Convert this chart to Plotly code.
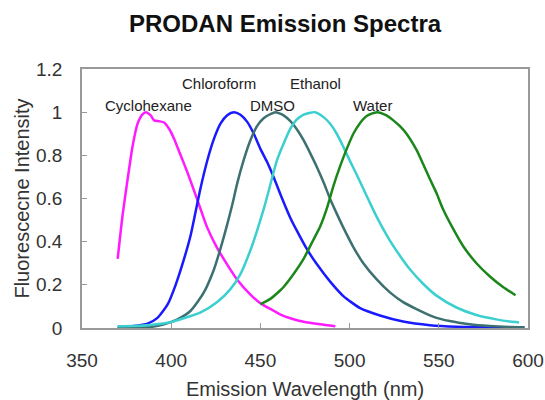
import plotly.graph_objects as go

# Emission wavelength (nm) and normalised intensity for each solvent
cyclohexane_wl = [370, 372.7, 375.5, 378.3, 381.1, 383.9, 385.8, 388.5, 390.4, 393.2, 396, 398.8,
                  401.6, 405.3, 409, 412.7, 416.5, 420.2, 425.8, 431.4, 437, 444.4, 450, 457.4,
                  461, 466.8, 474.2, 483.5, 492]
cyclohexane_int = [0.32, 0.52, 0.685, 0.84, 0.946, 0.99, 1.0, 0.985, 0.962, 0.958, 0.952, 0.923,
                   0.877, 0.80, 0.723, 0.639, 0.55, 0.465, 0.37, 0.294, 0.224, 0.155, 0.115, 0.08,
                   0.063, 0.045, 0.029, 0.017, 0.008]

chloroform_wl = [370, 379, 386.7, 392.3, 398, 402.5, 407.2, 410.9, 413.7, 416.5, 420.2, 423.9,
                 427.7, 431.4, 435.1, 438.8, 442.6, 446.3, 450, 453.7, 457.4, 461.2, 466.8, 470.5,
                 476.1, 481.7, 489.1, 496.5, 505.9, 517, 530, 545, 560, 580, 598]
chloroform_int = [0.003, 0.009, 0.02, 0.047, 0.109, 0.2, 0.32, 0.43, 0.54, 0.65, 0.775, 0.875,
                  0.948, 0.986, 1.0, 0.988, 0.955, 0.9, 0.83, 0.77, 0.70, 0.62, 0.51, 0.45,
                  0.365, 0.295, 0.215, 0.148, 0.092, 0.058, 0.03, 0.013, 0.006, 0.004, 0.003]

dmso_wl = [370, 388.5, 396, 403.5, 410.9, 418.3, 423.9, 427.7, 431.4, 434.2, 437, 440.7, 444.4,
           448.1, 451.8, 456.5, 458.4, 463, 466.8, 470.5, 474.2, 477.9, 481.7, 485.4, 489.1,
           492.8, 496.5, 502.1, 507.7, 515.2, 522.6, 530, 537.5, 546.8, 556.1, 567.3, 578.5,
           589.7, 598]
dmso_int = [0.002, 0.005, 0.017, 0.04, 0.08, 0.165, 0.27, 0.37, 0.48, 0.57, 0.67, 0.78, 0.87,
            0.935, 0.972, 0.994, 1.0, 0.985, 0.958, 0.92, 0.87, 0.81, 0.745, 0.675, 0.598,
            0.53, 0.465, 0.375, 0.3, 0.225, 0.165, 0.12, 0.088, 0.053, 0.032, 0.017, 0.009,
            0.005, 0.004]

ethanol_wl = [370, 379, 388.5, 398, 407, 416.5, 425.8, 433.2, 438.8, 444.4, 448.1, 451.8, 454.5,
              459, 462.8, 466.6, 470.3, 474, 480.6, 485.4, 489.1, 492.8, 496.5, 500.3, 504,
              507.7, 511.5, 515.2, 522.6, 528.2, 533.8, 541.2, 548.7, 559.9, 571.1, 582.2, 590, 595]
ethanol_int = [0.008, 0.009, 0.014, 0.024, 0.045, 0.072, 0.12, 0.18, 0.25, 0.36, 0.45, 0.55, 0.63,
               0.77, 0.85, 0.92, 0.965, 0.988, 1.0, 0.977, 0.946, 0.9, 0.839, 0.772, 0.71,
               0.645, 0.578, 0.515, 0.405, 0.335, 0.272, 0.205, 0.15, 0.095, 0.06, 0.04, 0.03,
               0.026]

water_wl = [450, 455.6, 461.2, 463, 468.6, 474.2, 479.8, 483.5, 487.3, 491, 494.7, 498.4, 502.1,
            505.9, 509.6, 515.2, 520.7, 524.5, 528.2, 531.9, 537.5, 541.2, 545, 548.7, 552.4, 558,
            563.6, 571.1, 578.5, 586, 593]
water_int = [0.11, 0.135, 0.175, 0.19, 0.25, 0.32, 0.41, 0.47, 0.555, 0.66, 0.75, 0.83, 0.9,
             0.95, 0.982, 1.0, 0.985, 0.962, 0.935, 0.9, 0.825, 0.76, 0.69, 0.625, 0.55, 0.46,
             0.38, 0.3, 0.24, 0.19, 0.152]

# Solvent labels and where they sit (wavelength, intensity)
label_text = ["Cyclohexane", "Chloroform", "DMSO", "Ethanol", "Water"]
label_x = [387, 427, 457, 481, 513]
label_y = [1.03, 1.135, 1.03, 1.135, 1.03]

x_ticks = [350, 400, 450, 500, 550, 600]
y_ticks = [0, 0.2, 0.4, 0.6, 0.8, 1.0, 1.2]
y_tick_text = ["0", "0.2", "0.4", "0.6", "0.8", "1", "1.2"]

series = [
    (cyclohexane_wl, cyclohexane_int, "#FF1AFF"),
    (chloroform_wl, chloroform_int, "#1A1AFF"),
    (dmso_wl, dmso_int, "#3D7070"),
    (ethanol_wl, ethanol_int, "#3CCFCF"),
    (water_wl, water_int, "#1B871B"),
]

FONT = "Liberation Sans, Arial, sans-serif"

fig = go.Figure()
for (wl, inten, color), name in zip(series, label_text):
    fig.add_trace(go.Scatter(x=wl, y=inten, mode="lines", name=name,
                             line=dict(color=color, width=2.5, shape="spline", smoothing=0.6)))

for t, x, y in zip(label_text, label_x, label_y):
    fig.add_annotation(x=x, y=y, text=t, showarrow=False,
                       font=dict(family=FONT, size=15, color="#222222"))

fig.update_layout(
    width=545, height=400,
    margin=dict(l=82, r=17, t=69, b=72),
    paper_bgcolor="white", plot_bgcolor="white",
    showlegend=False,
    title=dict(text="<b>PRODAN Emission Spectra</b>", x=0.523, xanchor="center",
               y=0.942, yanchor="middle",
               font=dict(family=FONT, size=24, color="#111111")),
)

fig.update_xaxes(range=[350, 600], tickvals=x_ticks, showgrid=False, zeroline=False,
                 automargin=False,
                 showline=True, linecolor="#999999", linewidth=1.5, mirror=True,
                 ticks="inside", ticklen=5, tickcolor="#999999", ticklabelstandoff=14,
                 tickfont=dict(family=FONT, size=19, color="#333333"),
                 title=dict(text="Emission Wavelength (nm)", standoff=19,
                            font=dict(family=FONT, size=20, color="#333333")))
fig.update_yaxes(range=[0, 1.2], tickvals=y_ticks, ticktext=y_tick_text, showgrid=False,
                 zeroline=False, automargin=False,
                 showline=True, linecolor="#999999", linewidth=1.5, mirror=True,
                 ticks="inside", ticklen=5, tickcolor="#999999", ticklabelstandoff=14,
                 tickfont=dict(family=FONT, size=19, color="#333333"),
                 title=dict(text="Fluorescecne Intensity", standoff=1,
                            font=dict(family=FONT, size=20, color="#333333")))

fig.write_html("out.html")
